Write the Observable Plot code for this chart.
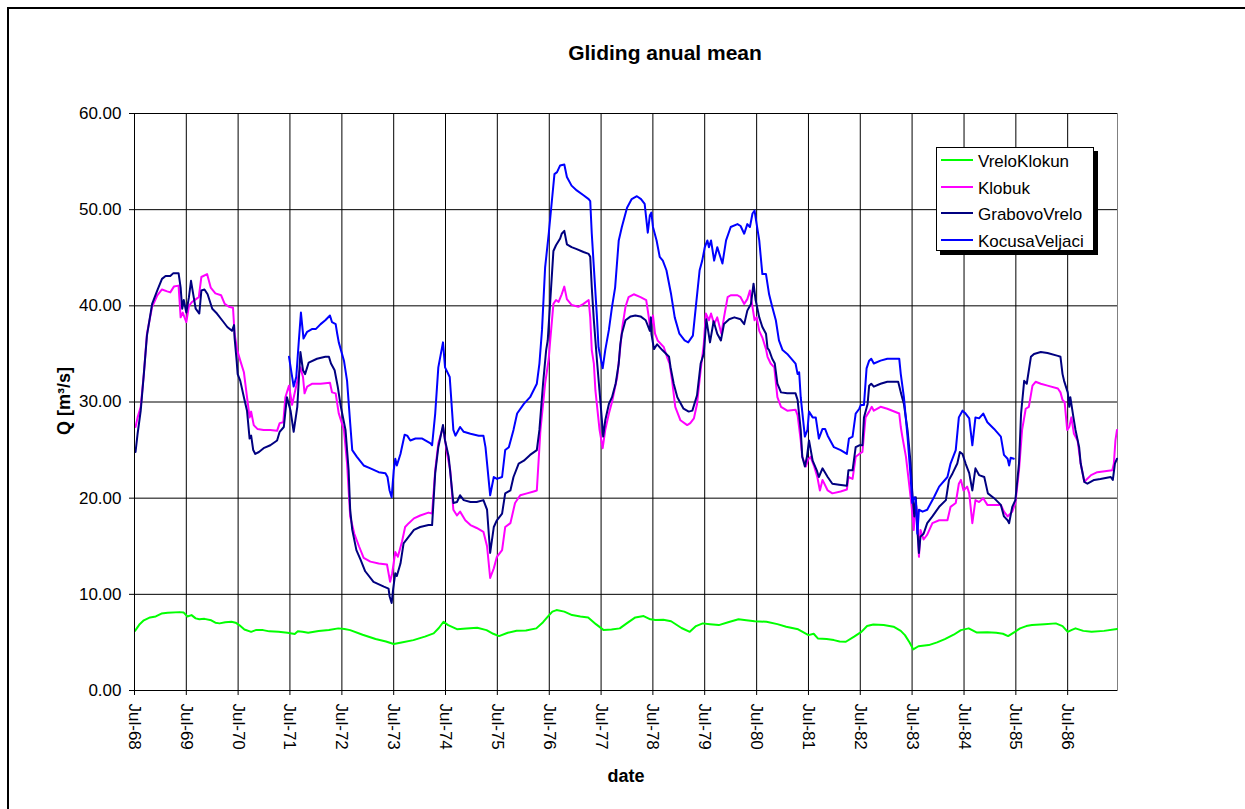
<!DOCTYPE html>
<html><head><meta charset="utf-8">
<script src="https://cdn.jsdelivr.net/npm/d3@7"></script>
<script src="https://cdn.jsdelivr.net/npm/@observablehq/plot@0.6"></script>
<style>
html,body{margin:0;padding:0;background:#fff;overflow:hidden;}
#wrap{position:relative;width:1245px;height:809px;font-family:"Liberation Sans",Arial,sans-serif;color:#000;}
#chart{position:absolute;left:0;top:0;}
#frame{position:absolute;left:7px;top:7px;width:1300px;height:900px;border:2px solid #000;box-sizing:border-box;pointer-events:none;}
.lbl{position:absolute;white-space:nowrap;line-height:1;}
#title{left:465px;width:400px;top:42px;text-align:center;font-weight:bold;font-size:21px;}
#xlab{left:426px;width:400px;top:767px;text-align:center;font-weight:bold;font-size:18px;}
#ylab{left:64px;top:401px;font-weight:bold;font-size:18px;transform:translate(-50%,-50%) rotate(-90deg);}
#legend{position:absolute;left:936px;top:147px;width:158px;height:104px;box-sizing:border-box;border:1px solid #000;background:#fff;box-shadow:4px 4px 0 #000;font-size:17px;}
#legend .sw{position:absolute;left:4px;width:32px;height:2px;}
#legend .tx{position:absolute;left:41px;line-height:1;white-space:nowrap;}
</style>
</head><body>
<div id="wrap">
  <div id="chart"></div>
  <div id="title" class="lbl">Gliding anual mean</div>
  <div id="xlab" class="lbl">date</div>
  <div id="ylab" class="lbl">Q [m³/s]</div>
  <div id="legend"></div>
  <div id="frame"></div>
</div>
<script>
// ---- data (x = decimal year, y = Q in m³/s) ----
const seriesNames = ["VreloKlokun", "Klobuk", "GrabovoVrelo", "KocusaVeljaci"];
const seriesColors = ["#00ff00", "#ff00ff", "#000080", "#0000ff"];

const xTickYears = [1968,1969,1970,1971,1972,1973,1974,1975,1976,1977,1978,1979,1980,1981,1982,1983,1984,1985,1986];
const xTickLabels = ["Jul-68","Jul-69","Jul-70","Jul-71","Jul-72","Jul-73","Jul-74","Jul-75","Jul-76","Jul-77","Jul-78","Jul-79","Jul-80","Jul-81","Jul-82","Jul-83","Jul-84","Jul-85","Jul-86"];
const yTicks = [0, 10, 20, 30, 40, 50, 60];
const xStartYear = 1968.5;
const xEndYear = 1987.46;

const vreloKlokun = [[1968.51,6.2],[1968.60,6.9],[1968.68,7.3],[1968.80,7.6],[1968.91,7.7],[1969.02,8.0],[1969.14,8.08],[1969.37,8.15],[1969.45,8.1],[1969.52,7.7],[1969.60,7.84],[1969.68,7.5],[1969.75,7.4],[1969.85,7.45],[1969.98,7.3],[1970.06,7.05],[1970.14,6.98],[1970.25,7.1],[1970.37,7.15],[1970.45,7.05],[1970.52,6.8],[1970.62,6.35],[1970.75,6.1],[1970.85,6.3],[1970.98,6.28],[1971.10,6.15],[1971.28,6.1],[1971.45,6.0],[1971.59,5.87],[1971.65,6.15],[1971.74,6.1],[1971.85,6.0],[1972.05,6.18],[1972.25,6.3],[1972.43,6.46],[1972.55,6.4],[1972.66,6.28],[1972.90,5.8],[1973.15,5.35],[1973.35,5.1],[1973.50,4.83],[1973.65,5.0],[1973.88,5.24],[1974.10,5.6],[1974.27,5.94],[1974.37,6.5],[1974.46,7.15],[1974.55,6.8],[1974.72,6.38],[1974.90,6.45],[1975.11,6.52],[1975.29,6.28],[1975.42,5.9],[1975.53,5.66],[1975.70,6.0],[1975.87,6.21],[1976.05,6.25],[1976.25,6.46],[1976.38,7.1],[1976.48,7.74],[1976.56,8.2],[1976.64,8.36],[1976.79,8.2],[1976.94,7.84],[1977.10,7.7],[1977.25,7.6],[1977.40,6.9],[1977.55,6.28],[1977.70,6.35],[1977.86,6.46],[1978.00,7.0],[1978.16,7.6],[1978.32,7.74],[1978.45,7.4],[1978.55,7.32],[1978.70,7.35],[1978.85,7.2],[1979.05,6.5],[1979.21,6.1],[1979.33,6.7],[1979.46,6.98],[1979.60,6.9],[1979.77,6.8],[1979.95,7.1],[1980.15,7.4],[1980.30,7.3],[1980.46,7.2],[1980.69,7.15],[1980.90,6.9],[1981.07,6.63],[1981.30,6.36],[1981.50,5.76],[1981.60,5.9],[1981.68,5.42],[1981.85,5.35],[1981.99,5.24],[1982.10,5.1],[1982.22,5.07],[1982.38,5.6],[1982.52,6.1],[1982.63,6.7],[1982.75,6.87],[1982.95,6.8],[1983.14,6.63],[1983.28,6.2],[1983.36,5.76],[1983.45,5.0],[1983.52,4.28],[1983.62,4.6],[1983.82,4.72],[1983.98,5.0],[1984.13,5.35],[1984.30,5.8],[1984.44,6.28],[1984.59,6.46],[1984.74,6.04],[1984.95,6.05],[1985.12,6.0],[1985.25,5.9],[1985.35,5.66],[1985.48,6.1],[1985.58,6.46],[1985.70,6.7],[1985.81,6.8],[1986.05,6.9],[1986.27,6.98],[1986.40,6.7],[1986.50,6.1],[1986.58,6.3],[1986.65,6.46],[1986.80,6.2],[1986.96,6.1],[1987.20,6.2],[1987.45,6.4]];

const klobuk = [[1968.52,27.4],[1968.56,28.4],[1968.62,29.5],[1968.68,32.9],[1968.74,37.1],[1968.84,39.9],[1968.94,41.1],[1969.03,41.7],[1969.13,41.5],[1969.19,41.4],[1969.26,42.0],[1969.35,42.1],[1969.39,38.8],[1969.43,39.3],[1969.50,38.3],[1969.55,40.0],[1969.61,40.4],[1969.66,40.6],[1969.74,40.9],[1969.79,43.0],[1969.90,43.3],[1969.97,41.9],[1970.06,41.3],[1970.17,41.1],[1970.24,40.2],[1970.32,39.9],[1970.40,39.8],[1970.43,37.1],[1970.48,35.4],[1970.54,34.3],[1970.61,33.1],[1970.67,30.5],[1970.72,28.4],[1970.75,29.0],[1970.80,27.6],[1970.87,27.2],[1970.99,27.1],[1971.12,27.1],[1971.25,27.0],[1971.30,27.8],[1971.37,27.9],[1971.41,30.5],[1971.48,31.7],[1971.54,29.7],[1971.60,31.2],[1971.70,33.6],[1971.75,32.6],[1971.78,30.9],[1971.83,31.6],[1971.93,31.9],[1972.09,31.9],[1972.27,32.0],[1972.31,31.0],[1972.38,30.9],[1972.44,28.8],[1972.54,27.1],[1972.60,23.6],[1972.66,18.1],[1972.74,16.3],[1972.83,15.0],[1972.92,13.8],[1973.05,13.4],[1973.21,13.2],[1973.37,13.1],[1973.43,11.3],[1973.47,12.2],[1973.53,14.4],[1973.58,13.9],[1973.66,15.5],[1973.72,17.0],[1973.79,17.4],[1973.89,17.9],[1974.01,18.2],[1974.17,18.5],[1974.24,18.4],[1974.30,22.9],[1974.36,25.7],[1974.45,27.4],[1974.53,24.6],[1974.59,22.9],[1974.65,18.8],[1974.72,18.2],[1974.78,18.6],[1974.88,17.7],[1974.98,17.2],[1975.10,16.9],[1975.23,16.5],[1975.30,15.0],[1975.36,11.7],[1975.43,12.7],[1975.49,13.9],[1975.59,14.6],[1975.65,17.0],[1975.75,17.4],[1975.84,19.5],[1975.94,20.3],[1976.07,20.5],[1976.20,20.7],[1976.26,20.8],[1976.33,27.1],[1976.42,31.9],[1976.49,34.5],[1976.52,36.5],[1976.58,40.2],[1976.63,40.6],[1976.68,40.4],[1976.74,41.2],[1976.79,42.0],[1976.84,40.7],[1976.93,40.1],[1977.06,39.9],[1977.16,40.2],[1977.26,40.6],[1977.29,38.8],[1977.32,35.4],[1977.36,34.0],[1977.39,31.2],[1977.47,27.1],[1977.53,25.2],[1977.58,27.1],[1977.65,28.8],[1977.71,30.0],[1977.81,32.6],[1977.87,35.7],[1977.91,37.8],[1977.97,39.9],[1978.03,40.9],[1978.13,41.2],[1978.26,40.9],[1978.37,40.6],[1978.42,38.8],[1978.45,37.4],[1978.50,39.0],[1978.54,37.1],[1978.59,36.4],[1978.71,35.7],[1978.77,34.7],[1978.82,34.0],[1978.87,32.2],[1978.93,29.5],[1979.03,28.1],[1979.16,27.6],[1979.22,27.8],[1979.29,28.3],[1979.35,29.8],[1979.42,33.3],[1979.48,36.0],[1979.52,39.2],[1979.58,38.5],[1979.62,39.2],[1979.68,38.1],[1979.74,38.8],[1979.82,37.1],[1979.87,38.8],[1979.94,40.9],[1980.00,41.1],[1980.13,41.1],[1980.19,40.9],[1980.26,40.2],[1980.32,40.7],[1980.37,41.6],[1980.42,39.9],[1980.46,38.5],[1980.50,38.8],[1980.55,37.4],[1980.61,36.7],[1980.68,35.5],[1980.71,34.7],[1980.77,34.0],[1980.84,33.6],[1980.90,30.5],[1980.97,29.5],[1981.09,29.1],[1981.25,29.2],[1981.29,28.6],[1981.35,26.0],[1981.38,24.3],[1981.45,23.3],[1981.49,24.0],[1981.54,24.3],[1981.61,23.3],[1981.67,22.2],[1981.72,20.8],[1981.77,21.9],[1981.87,20.8],[1981.96,20.5],[1982.12,20.7],[1982.24,20.9],[1982.27,22.2],[1982.35,22.0],[1982.41,24.3],[1982.48,24.6],[1982.54,24.8],[1982.60,28.4],[1982.67,29.0],[1982.72,29.5],[1982.76,29.1],[1982.89,29.5],[1983.02,29.3],[1983.25,28.8],[1983.28,27.4],[1983.31,26.4],[1983.38,24.3],[1983.44,21.5],[1983.49,19.1],[1983.53,16.7],[1983.57,19.5],[1983.60,18.1],[1983.63,13.9],[1983.66,16.7],[1983.72,15.7],[1983.79,16.2],[1983.89,17.4],[1984.02,17.7],[1984.18,17.7],[1984.24,19.1],[1984.34,19.5],[1984.40,21.5],[1984.44,21.9],[1984.49,20.8],[1984.56,21.2],[1984.60,20.5],[1984.66,17.4],[1984.72,19.8],[1984.79,19.6],[1984.87,20.0],[1984.95,19.3],[1985.21,19.3],[1985.27,18.6],[1985.34,18.1],[1985.43,18.6],[1985.49,19.5],[1985.56,22.9],[1985.62,27.1],[1985.69,29.3],[1985.75,29.5],[1985.82,31.7],[1985.88,32.1],[1985.98,31.9],[1986.11,31.7],[1986.31,31.4],[1986.36,31.0],[1986.40,30.2],[1986.44,30.0],[1986.49,27.1],[1986.53,27.4],[1986.57,28.4],[1986.62,26.7],[1986.69,26.0],[1986.75,23.6],[1986.82,21.7],[1986.95,22.4],[1987.07,22.7],[1987.36,22.9],[1987.39,23.6],[1987.42,26.0],[1987.45,27.1]];

const grabovoVrelo = [[1968.52,24.8],[1968.56,26.7],[1968.62,29.1],[1968.68,32.9],[1968.74,36.9],[1968.84,40.2],[1968.94,41.6],[1969.03,42.8],[1969.10,43.1],[1969.19,43.1],[1969.25,43.4],[1969.35,43.4],[1969.39,41.9],[1969.42,39.7],[1969.45,40.6],[1969.50,39.3],[1969.55,40.9],[1969.59,42.6],[1969.63,41.3],[1969.68,39.7],[1969.75,39.2],[1969.79,41.6],[1969.85,41.7],[1969.91,41.2],[1970.00,39.7],[1970.09,39.2],[1970.19,38.5],[1970.29,37.8],[1970.38,37.4],[1970.42,38.0],[1970.43,36.7],[1970.47,34.3],[1970.49,32.9],[1970.54,32.2],[1970.61,30.5],[1970.67,29.1],[1970.72,26.2],[1970.75,26.5],[1970.79,25.0],[1970.83,24.6],[1970.90,24.8],[1970.99,25.2],[1971.12,25.5],[1971.25,26.0],[1971.30,26.9],[1971.38,27.4],[1971.44,30.5],[1971.51,29.1],[1971.57,26.9],[1971.64,29.5],[1971.70,35.2],[1971.75,33.3],[1971.79,32.9],[1971.86,34.1],[1972.02,34.5],[1972.18,34.7],[1972.25,34.7],[1972.29,34.0],[1972.36,33.3],[1972.42,31.6],[1972.48,29.5],[1972.57,27.1],[1972.63,22.9],[1972.66,18.8],[1972.70,16.7],[1972.78,14.6],[1972.86,13.6],[1972.95,12.4],[1973.11,11.3],[1973.31,10.8],[1973.40,10.6],[1973.42,9.8],[1973.46,9.1],[1973.49,10.6],[1973.53,12.2],[1973.56,11.9],[1973.63,13.2],[1973.69,15.3],[1973.79,16.0],[1973.89,16.7],[1974.01,17.0],[1974.17,17.2],[1974.24,17.2],[1974.30,22.6],[1974.36,25.3],[1974.45,27.6],[1974.49,26.0],[1974.56,24.3],[1974.65,19.5],[1974.72,19.6],[1974.78,20.3],[1974.85,19.8],[1974.98,19.6],[1975.10,19.6],[1975.23,19.8],[1975.30,18.8],[1975.36,14.3],[1975.43,17.0],[1975.49,17.7],[1975.59,18.4],[1975.65,20.5],[1975.75,20.8],[1975.81,22.2],[1975.91,23.6],[1976.01,23.9],[1976.13,24.5],[1976.26,25.0],[1976.31,27.1],[1976.38,31.9],[1976.44,35.4],[1976.47,36.4],[1976.52,40.6],[1976.58,45.7],[1976.63,46.3],[1976.71,47.0],[1976.74,47.5],[1976.79,47.8],[1976.84,46.4],[1976.93,46.1],[1977.03,45.9],[1977.16,45.6],[1977.26,45.4],[1977.29,45.1],[1977.32,41.9],[1977.36,38.5],[1977.42,34.3],[1977.49,29.8],[1977.54,26.4],[1977.58,28.1],[1977.65,29.8],[1977.71,30.5],[1977.78,31.9],[1977.84,34.0],[1977.87,36.0],[1977.90,37.1],[1977.97,38.5],[1978.07,38.9],[1978.16,39.0],[1978.26,38.9],[1978.36,38.5],[1978.44,37.4],[1978.46,38.8],[1978.47,37.1],[1978.52,35.5],[1978.58,36.0],[1978.68,35.4],[1978.81,34.7],[1978.84,33.6],[1978.90,31.9],[1978.97,30.5],[1979.09,29.3],[1979.19,29.0],[1979.26,29.1],[1979.35,30.7],[1979.42,34.0],[1979.48,35.0],[1979.53,38.6],[1979.60,36.2],[1979.67,38.4],[1979.74,37.1],[1979.81,36.4],[1979.87,38.1],[1979.97,38.6],[1980.07,38.8],[1980.19,38.6],[1980.26,38.1],[1980.32,39.5],[1980.39,40.2],[1980.44,42.3],[1980.48,40.6],[1980.55,38.8],[1980.61,37.8],[1980.68,37.1],[1980.71,35.6],[1980.74,35.4],[1980.80,34.5],[1980.85,34.0],[1980.90,31.9],[1980.97,31.0],[1981.09,30.9],[1981.25,30.9],[1981.29,30.2],[1981.35,27.1],[1981.38,24.3],[1981.43,23.3],[1981.47,24.3],[1981.51,26.0],[1981.58,23.9],[1981.66,22.9],[1981.70,22.2],[1981.77,23.1],[1981.87,22.2],[1981.96,21.5],[1982.09,21.4],[1982.24,21.3],[1982.27,22.9],[1982.35,22.9],[1982.41,25.3],[1982.48,25.5],[1982.54,25.5],[1982.57,28.4],[1982.64,29.8],[1982.67,31.7],[1982.71,31.9],[1982.76,31.6],[1982.89,31.9],[1983.02,32.1],[1983.23,32.1],[1983.28,31.0],[1983.34,29.8],[1983.41,27.1],[1983.47,23.6],[1983.50,20.8],[1983.54,18.1],[1983.57,20.1],[1983.60,16.7],[1983.63,14.3],[1983.66,16.0],[1983.72,16.3],[1983.79,17.4],[1983.89,18.1],[1984.02,19.1],[1984.15,19.8],[1984.21,21.9],[1984.28,22.6],[1984.37,23.6],[1984.42,24.8],[1984.47,24.6],[1984.53,23.6],[1984.60,22.6],[1984.66,20.8],[1984.72,23.1],[1984.79,22.4],[1984.89,22.2],[1984.96,20.5],[1985.08,20.0],[1985.21,19.3],[1985.27,18.1],[1985.34,17.7],[1985.37,17.4],[1985.43,19.1],[1985.49,19.8],[1985.56,23.6],[1985.60,28.8],[1985.66,32.2],[1985.71,31.9],[1985.79,34.7],[1985.85,35.0],[1985.98,35.2],[1986.11,35.1],[1986.31,34.8],[1986.36,34.7],[1986.40,32.9],[1986.43,32.2],[1986.50,31.0],[1986.53,29.5],[1986.55,30.5],[1986.61,28.4],[1986.65,27.1],[1986.72,25.3],[1986.75,23.6],[1986.82,21.7],[1986.88,21.5],[1987.01,21.9],[1987.13,22.0],[1987.33,22.2],[1987.37,21.9],[1987.41,23.6],[1987.45,24.1]];

const kocusaVeljaci = [[1971.48,34.7],[1971.57,31.6],[1971.62,32.6],[1971.67,36.4],[1971.71,39.3],[1971.76,36.6],[1971.83,37.3],[1971.93,37.6],[1972.00,37.6],[1972.09,38.1],[1972.18,38.5],[1972.27,39.0],[1972.31,38.3],[1972.38,38.1],[1972.41,37.1],[1972.44,36.2],[1972.54,34.3],[1972.60,32.2],[1972.66,27.8],[1972.70,25.0],[1972.79,24.3],[1972.92,23.4],[1973.05,23.1],[1973.21,22.7],[1973.34,22.6],[1973.38,22.2],[1973.42,20.8],[1973.46,20.1],[1973.50,22.9],[1973.53,24.1],[1973.56,23.4],[1973.63,24.6],[1973.71,26.6],[1973.76,26.5],[1973.82,26.0],[1973.92,26.2],[1974.05,26.2],[1974.21,25.7],[1974.24,25.5],[1974.30,28.8],[1974.36,33.6],[1974.45,36.2],[1974.49,33.6],[1974.58,32.6],[1974.65,27.1],[1974.69,26.5],[1974.78,27.4],[1974.85,26.9],[1974.98,26.7],[1975.14,26.5],[1975.23,26.5],[1975.27,25.3],[1975.36,20.3],[1975.43,22.2],[1975.49,22.0],[1975.59,22.2],[1975.65,25.0],[1975.72,25.3],[1975.81,27.1],[1975.88,28.8],[1976.01,29.8],[1976.13,30.5],[1976.26,31.9],[1976.31,34.0],[1976.36,37.5],[1976.42,44.0],[1976.49,47.5],[1976.55,50.9],[1976.60,53.7],[1976.65,53.9],[1976.71,54.6],[1976.79,54.7],[1976.84,53.4],[1976.93,52.5],[1977.03,52.0],[1977.16,51.5],[1977.26,51.1],[1977.29,50.9],[1977.32,47.5],[1977.36,44.0],[1977.42,38.8],[1977.45,35.7],[1977.53,33.5],[1977.58,35.4],[1977.65,37.5],[1977.71,39.9],[1977.77,41.9],[1977.84,46.8],[1977.90,48.2],[1978.00,50.2],[1978.09,51.1],[1978.19,51.4],[1978.27,51.1],[1978.34,50.6],[1978.40,47.6],[1978.44,49.4],[1978.47,49.7],[1978.50,48.2],[1978.57,46.8],[1978.63,45.1],[1978.69,44.7],[1978.76,43.7],[1978.85,41.2],[1978.92,38.8],[1979.01,37.1],[1979.11,36.4],[1979.18,36.2],[1979.27,36.9],[1979.34,40.6],[1979.40,43.7],[1979.45,44.7],[1979.50,46.1],[1979.55,46.8],[1979.58,46.1],[1979.62,46.8],[1979.68,44.7],[1979.74,46.1],[1979.84,44.4],[1979.91,46.8],[1980.00,48.2],[1980.13,48.5],[1980.19,48.3],[1980.26,47.5],[1980.32,48.5],[1980.37,48.2],[1980.42,49.6],[1980.46,49.9],[1980.50,48.5],[1980.55,46.8],[1980.61,43.3],[1980.68,43.3],[1980.74,41.2],[1980.80,39.9],[1980.87,38.5],[1980.93,36.4],[1981.00,35.4],[1981.09,35.0],[1981.25,34.0],[1981.29,32.9],[1981.32,33.1],[1981.35,30.5],[1981.43,26.4],[1981.48,27.1],[1981.51,29.0],[1981.58,28.4],[1981.64,28.4],[1981.70,26.2],[1981.77,27.2],[1981.82,27.2],[1981.87,26.5],[1981.99,25.3],[1982.12,25.0],[1982.24,24.6],[1982.28,26.2],[1982.35,26.4],[1982.41,28.8],[1982.48,29.3],[1982.51,29.7],[1982.57,29.7],[1982.62,33.5],[1982.67,34.3],[1982.71,34.5],[1982.76,34.0],[1982.89,34.3],[1983.02,34.5],[1983.25,34.5],[1983.28,32.9],[1983.34,30.5],[1983.41,26.4],[1983.47,22.2],[1983.50,19.5],[1983.54,20.1],[1983.57,19.8],[1983.60,16.3],[1983.63,18.8],[1983.70,18.6],[1983.79,18.8],[1983.92,20.1],[1984.02,21.2],[1984.18,22.2],[1984.24,23.6],[1984.34,25.0],[1984.40,28.4],[1984.47,29.1],[1984.53,28.8],[1984.60,28.3],[1984.66,25.5],[1984.72,28.4],[1984.79,28.3],[1984.87,28.8],[1984.95,27.9],[1985.08,27.2],[1985.21,26.4],[1985.27,24.5],[1985.34,24.1],[1985.37,23.4],[1985.40,24.2],[1985.46,24.1]];

// ---- build ----
const DAY = 864e5;
const toDate = y => new Date(Date.UTC(1968, 6, 1) + (y - 1968.5) * 365.25 * DAY);
const allSeries = [vreloKlokun, klobuk, grabovoVrelo, kocusaVeljaci];
const rows = [];
allSeries.forEach((s, k) => s.forEach(([yr, q]) => rows.push({name: seriesNames[k], date: toDate(yr), q})));
const tickDates = xTickYears.map(y => new Date(Date.UTC(y, 6, 1)));
const xDomain = [toDate(xStartYear), toDate(xEndYear)];

const chart = Plot.plot({
  width: 1245,
  height: 809,
  marginLeft: 134,
  marginRight: 128,
  marginTop: 113,
  marginBottom: 119,
  style: {fontFamily: '"Liberation Sans", Arial, sans-serif', fontSize: "17px", background: "transparent", color: "#000", overflow: "visible"},
  x: {type: "utc", domain: xDomain, ticks: tickDates, tickSize: 5, tickPadding: 8, tickRotate: 90,
      tickFormat: d => xTickLabels[xTickYears.indexOf(d.getUTCFullYear())], label: null},
  y: {domain: [0, 60], ticks: yTicks, tickSize: 5, tickPadding: 8, tickFormat: d3.format(".2f"), label: null},
  color: {domain: seriesNames, range: seriesColors},
  marks: [
    Plot.frame({stroke: "#808080"}),
    Plot.ruleX(tickDates, {stroke: "#000", strokeWidth: 1}),
    Plot.ruleY(yTicks, {stroke: "#000", strokeWidth: 1}),
    Plot.line(rows, {x: "date", y: "q", z: "name", stroke: "name", strokeWidth: 2, strokeLinejoin: "round"}),
    Plot.ruleX([xDomain[0]], {stroke: "#000"}),
    Plot.ruleY([0], {stroke: "#000"})
  ]
});
document.getElementById("chart").appendChild(chart);

// legend
const leg = document.getElementById("legend");
seriesNames.forEach((n, i) => {
  const sw = document.createElement("div");
  sw.className = "sw";
  sw.style.top = (11 + i * 26.7) + "px";
  sw.style.background = seriesColors[i];
  leg.appendChild(sw);
  const tx = document.createElement("div");
  tx.className = "tx";
  tx.style.top = (4.8 + i * 26.7) + "px";
  tx.textContent = n;
  leg.appendChild(tx);
});
</script>
</body></html>
